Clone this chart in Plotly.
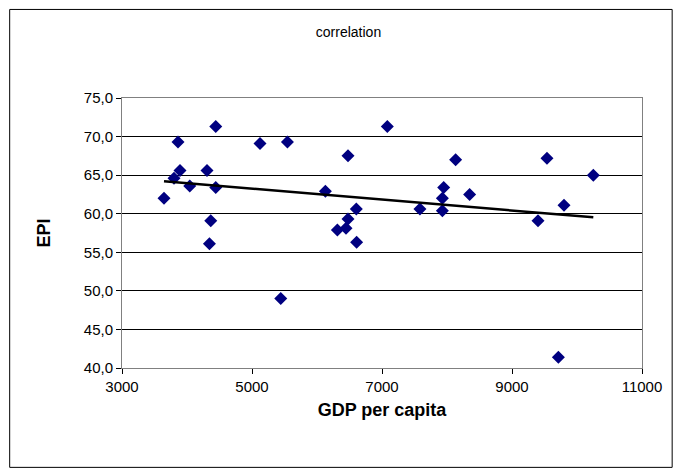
import numpy as np
import plotly.graph_objects as go

gdp = [3646, 3800, 3862, 3892, 4042, 4308, 4365, 4345, 4442, 4442, 5123, 5442, 5545,
       6129, 6477, 6313, 6446, 6477, 6605, 6610, 7082, 7584, 7949, 7929, 7929, 8133,
       8348, 9400, 9538, 9800, 9713, 10251]
epi = [62.0, 64.6, 69.3, 65.6, 63.6, 65.6, 59.1, 56.1, 71.3, 63.4, 69.1, 49.0, 69.3,
       62.9, 67.5, 57.9, 58.1, 59.3, 60.6, 56.3, 71.3, 60.6, 63.4, 62.0, 60.4, 67.0,
       62.5, 59.1, 67.2, 61.1, 41.4, 65.0]
y_ticks = [40, 45, 50, 55, 60, 65, 70, 75]
x_ticks = [3000, 5000, 7000, 9000, 11000]

# trend line (least squares)
k, b = np.polyfit(gdp, epi, 1)
tx = np.array([min(gdp), max(gdp)])
ty = k * tx + b

fig = go.Figure()
fig.add_trace(go.Scatter(x=gdp, y=epi, mode='markers',
                         marker=dict(symbol='diamond', size=10, color='#000080')))
fig.add_trace(go.Scatter(x=tx, y=ty, mode='lines', line=dict(color='black', width=2.5)))

fig.update_layout(
    width=681, height=474,
    paper_bgcolor='white', plot_bgcolor='white',
    showlegend=False,
    margin=dict(l=114, r=47, t=90, b=114),
    font=dict(family='Arial, Liberation Sans', size=15, color='black'),
    title=dict(text='correlation', x=0.5, xanchor='center', y=0.95, yanchor='middle',
               font=dict(size=14)),
    xaxis=dict(range=[3000, 11000], tickvals=x_ticks, tickformat='d', showgrid=False,
               zeroline=False, ticks='outside', ticklen=5, tickcolor='black', showline=True,
               linecolor='#808080', mirror=True,
               title=dict(text='<b>GDP per capita</b>', standoff=9)),
    yaxis=dict(range=[40, 75], tickvals=y_ticks,
               ticktext=[f'{v:.1f}'.replace('.', ',') for v in y_ticks],
               showgrid=True, gridcolor='black', gridwidth=1, zeroline=False,
               ticks='outside', ticklen=5, tickcolor='black', showline=True,
               linecolor='#808080', mirror=True,
               title=dict(text='<b>EPI</b>', standoff=28)),
    shapes=[dict(type='rect', xref='paper', yref='paper', x0=-0.216, x1=1.058,
                 y0=-0.368, y1=1.328, line=dict(color='black', width=1))],
)

fig.write_html('out.html')
